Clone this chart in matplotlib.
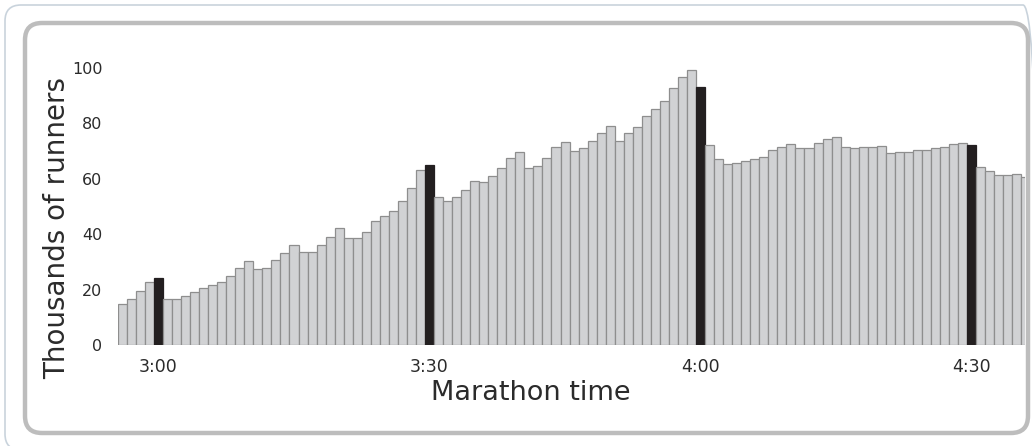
import matplotlib

matplotlib.use("Agg")
import matplotlib.pyplot as plt
from matplotlib.patches import FancyBboxPatch

# finishing minute (minutes after midnight-of-race, i.e. 180 = 3:00)
first_minute = 176
runners_k = [
    14.7, 16.6, 19.6, 22.9,                                      # 2:56-2:59
    24.1, 16.5, 16.5, 17.6, 19.0, 20.7, 21.5, 22.7, 24.9, 27.9,  # 3:00-3:09
    30.4, 27.3, 27.8, 30.6, 33.2, 36.2, 33.6, 33.6, 36.1, 39.1,  # 3:10-3:19
    42.1, 38.8, 38.8, 40.8, 44.9, 46.7, 48.4, 52.1, 56.7, 63.2,  # 3:20-3:29
    65.1, 53.5, 52.1, 53.5, 56.0, 59.3, 59.0, 61.1, 63.8, 67.4,  # 3:30-3:39
    69.7, 63.8, 64.7, 67.4, 71.5, 73.2, 70.0, 71.1, 73.6, 76.6,  # 3:40-3:49
    78.9, 73.6, 76.6, 78.6, 82.7, 85.2, 88.1, 92.7, 96.8, 99.2,  # 3:50-3:59
    93.1, 72.2, 67.0, 65.5, 65.7, 66.3, 67.1, 68.0, 70.3, 71.6,  # 4:00-4:09
    72.4, 71.0, 71.2, 73.0, 74.4, 75.0, 71.6, 71.0, 71.5, 71.6,  # 4:10-4:19
    71.8, 69.4, 69.8, 69.7, 70.5, 70.5, 71.0, 71.6, 72.6, 72.8,  # 4:20-4:29
    72.1, 64.1, 62.9, 61.5, 61.3, 61.7, 60.5,                    # 4:30-4:36
]
minutes = list(range(first_minute, first_minute + len(runners_k)))
highlight_minutes = [180, 210, 240, 270]
tick_minutes = [180, 210, 240, 270]
tick_labels = ["3:00", "3:30", "4:00", "4:30"]
y_ticks = [0, 20, 40, 60, 80, 100]

GRAY = "#d1d2d4"
EDGE = "#8e8e8e"
DARK = "#231f20"
TEXT = "#2b2b2b"

plt.rcParams["font.family"] = ["DejaVu Sans"]

W, H = 1032, 446
fig = plt.figure(figsize=(W / 100, H / 100), dpi=100)
fig.patch.set_facecolor("white")

# frames drawn in pixel space (origin bottom-left)
outer = FancyBboxPatch((5, -4), 1034, H - 5 + 4,
                       boxstyle="round,pad=0,rounding_size=16",
                       transform=None, fill=False,
                       edgecolor="#c9d3dc", linewidth=1.2, zorder=-10)
inner = FancyBboxPatch((25, H - 433), 1003, 410,
                       boxstyle="round,pad=0,rounding_size=17",
                       transform=None, fill=True, facecolor="white",
                       edgecolor="#bdbdbd", linewidth=3.2, zorder=-9)
fig.patches.extend([outer, inner])

ax = fig.add_axes([117.8 / W, 1 - 345 / H, (1024.5 - 117.8) / W, (345 - 68) / H])
ax.set_facecolor("none")
ax.set_zorder(2)

colors = [DARK if m in highlight_minutes else GRAY for m in minutes]
edges = [DARK if m in highlight_minutes else EDGE for m in minutes]
ax.bar(minutes, runners_k, width=1.0, color=colors, edgecolor=edges, linewidth=0.9)

ax.set_xlim(175.5, 275.85)
ax.set_ylim(0, 100)
for s in ax.spines.values():
    s.set_visible(False)

ax.set_xticks(tick_minutes)
ax.set_xticklabels(tick_labels)
ax.set_yticks(y_ticks)
ax.tick_params(axis="both", length=0, colors=TEXT)
ax.tick_params(axis="x", pad=9, labelsize=12.5)
ax.tick_params(axis="y", pad=11, labelsize=11.5)

fig.text(531 / W, 1 - 393 / H, "Marathon time", ha="center", va="center",
         fontsize=19.5, color=TEXT, zorder=3)
fig.text(57 / W, 1 - 228 / H, "Thousands of runners", ha="center", va="center",
         rotation=90, fontsize=20, color=TEXT, zorder=3)

fig.savefig("out.png", dpi=100)
